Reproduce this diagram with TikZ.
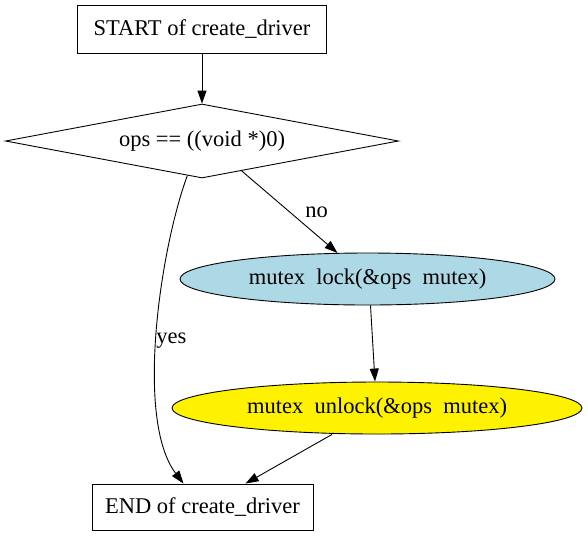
\documentclass[tikz,border=0pt]{standalone}
\usepackage{fontspec}
\setmainfont{Liberation Serif}
\usetikzlibrary{shapes.geometric,arrows.meta}
\definecolor{lockblue}{HTML}{ADD8E6}

\tikzset{
	every node/.style={font=\fontsize{22.5}{26}\selectfont},
	boxnode/.style={draw, rectangle, inner sep=0pt},
	testnode/.style={draw, diamond, aspect=5.31, inner sep=0pt, minimum width=393pt, minimum height=74pt},
	callnode/.style={draw, ellipse, inner sep=0pt},
	flow/.style={-{Triangle[length=13pt,width=9pt]}}
}

\begin{document}
\begin{tikzpicture}[x=1pt, y=-1pt, line width=0.9pt]
\useasboundingbox (0,0) rectangle (588,539);

%nodes
\node[boxnode, minimum width=249pt, minimum height=48pt] (start) at (202,29) {START of create\_driver};
\node[testnode] (cond) at (202,141) {ops == ((void *)0)};
\node[callnode, fill=lockblue, minimum width=375pt, minimum height=52pt] (lock) at (367.5,279) {mutex\ \ lock(\&ops\ \ mutex)};
\node[callnode, fill=yellow, minimum width=410pt, minimum height=52pt] (unlock) at (377,408) {mutex\ \ unlock(\&ops\ \ mutex)};
\node[boxnode, minimum width=221pt, minimum height=46pt] (endn) at (202.5,507) {END of create\_driver};

%edges
\draw[flow] (start) -- (cond);
\draw[flow] (cond.-37) -- (lock.139) node[pos=0.5, right, xshift=12pt] {no};
\draw[flow] (cond.-113) .. controls (160,250) and (135,420) .. ([xshift=-19pt]endn.north)
	node[pos=0.52, right, xshift=-4pt] {yes};
\draw[flow] ([xshift=3pt]lock.south) -- ([xshift=-2pt]unlock.north);
\draw[flow] ([xshift=-45pt]unlock.south) -- ([xshift=43pt]endn.north);

\end{tikzpicture}
\end{document}
